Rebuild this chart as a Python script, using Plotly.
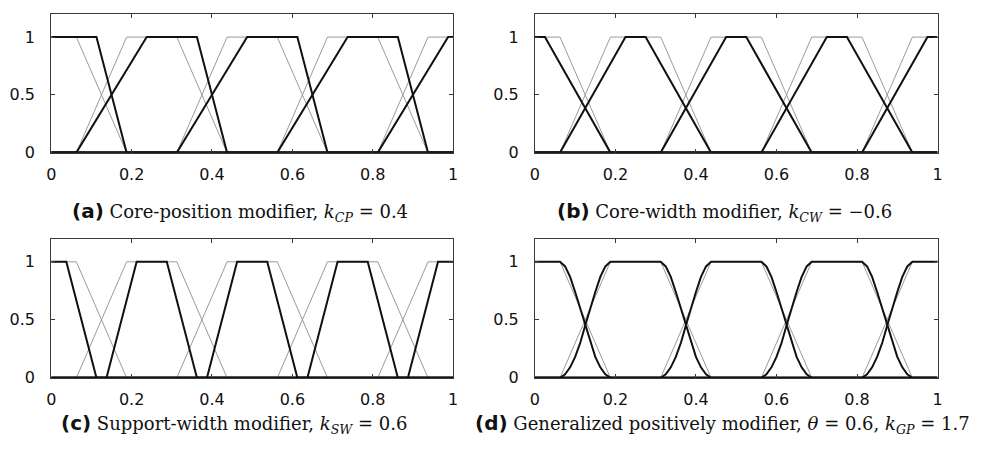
import plotly.graph_objects as go

# Reference fuzzy partition: five trapezoidal membership functions on [0, 1]
REF_SUPPORT_LO = [0.0, 0.0625, 0.3125, 0.5625, 0.8125]
REF_CORE_LO = [0.0, 0.1875, 0.4375, 0.6875, 0.9375]
REF_CORE_HI = [0.0625, 0.3125, 0.5625, 0.8125, 1.0]
REF_SUPPORT_HI = [0.1875, 0.4375, 0.6875, 0.9375, 1.0]

# (a) core-position modifier, k_CP = 0.4
A_SUPPORT_LO = [0.0, 0.0625, 0.3125, 0.5625, 0.8125]
A_CORE_LO = [0.0, 0.2375, 0.4875, 0.7375, 0.9875]
A_CORE_HI = [0.1125, 0.3625, 0.6125, 0.8625, 1.0]
A_SUPPORT_HI = [0.1875, 0.4375, 0.6875, 0.9375, 1.0]

# (b) core-width modifier, k_CW = -0.6
B_SUPPORT_LO = [0.0, 0.0625, 0.3125, 0.5625, 0.8125]
B_CORE_LO = [0.0, 0.225, 0.475, 0.725, 0.975]
B_CORE_HI = [0.025, 0.275, 0.525, 0.775, 1.0]
B_SUPPORT_HI = [0.1875, 0.4375, 0.6875, 0.9375, 1.0]

# (c) support-width modifier, k_SW = 0.6
C_SUPPORT_LO = [0.0, 0.1375, 0.3875, 0.6375, 0.8875]
C_CORE_LO = [0.0, 0.2125, 0.4625, 0.7125, 0.9625]
C_CORE_HI = [0.0375, 0.2875, 0.5375, 0.7875, 1.0]
C_SUPPORT_HI = [0.1125, 0.3625, 0.6125, 0.8625, 1.0]

# (d) generalized positively modifier: same breakpoints, curved rising edge
D_EDGE_POS = [0.0, 0.1, 0.2, 0.3, 0.4, 0.5, 0.6, 0.7, 0.8, 0.9, 1.0]
D_EDGE_MU = [0.0, 0.03, 0.09, 0.18, 0.30, 0.45, 0.60, 0.74, 0.87, 0.96, 1.0]

X_TICKS = [0, 0.2, 0.4, 0.6, 0.8, 1]
X_TICK_TEXT = ["0", "0.2", "0.4", "0.6", "0.8", "1"]
Y_TICKS = [0, 0.5, 1]
Y_TICK_TEXT = ["0", "0.5", "1"]

CAPTIONS = ["(a)", "(b)", "(c)", "(d)"]
CAPTION_TEXT = [
    "Core-position modifier, <i>k</i><sub><i>CP</i></sub> = 0.4",
    "Core-width modifier, <i>k</i><sub><i>CW</i></sub> = \u22120.6",
    "Support-width modifier, <i>k</i><sub><i>SW</i></sub> = 0.6",
    "Generalized positively modifier, <i>\u03b8</i> = 0.6, <i>k</i><sub><i>GP</i></sub> = 1.7",
]

GRAY = "#9a9a9a"
BLACK = "#111111"
FRAME = "#3a3a3a"


def trapezoid(a, b, c, d, edge_pos=None, edge_mu=None):
    """Polyline of one membership function over [0, 1]."""
    xs, ys = [], []
    if a > 0:
        xs.append(0.0)
        ys.append(0.0)
    if b > a:
        if edge_pos is None:
            xs += [a, b]
            ys += [0.0, 1.0]
        else:
            xs += [a + (b - a) * p for p in edge_pos]
            ys += list(edge_mu)
    else:
        xs.append(b)
        ys.append(1.0)
    if d > c:
        if edge_pos is None:
            xs += [c, d]
            ys += [1.0, 0.0]
        else:
            xs += [c + (d - c) * p for p in edge_pos]
            ys += list(reversed(edge_mu))
    else:
        xs.append(c)
        ys.append(1.0)
    if d < 1:
        xs.append(1.0)
        ys.append(0.0)
    return xs, ys


fig = go.Figure()

panels = [
    (A_SUPPORT_LO, A_CORE_LO, A_CORE_HI, A_SUPPORT_HI, None, None),
    (B_SUPPORT_LO, B_CORE_LO, B_CORE_HI, B_SUPPORT_HI, None, None),
    (C_SUPPORT_LO, C_CORE_LO, C_CORE_HI, C_SUPPORT_HI, None, None),
    (REF_SUPPORT_LO, REF_CORE_LO, REF_CORE_HI, REF_SUPPORT_HI, D_EDGE_POS, D_EDGE_MU),
]

# paper-space domains of the four panels
x_domains = [(0.047, 0.4554), (0.5385, 0.9477), (0.047, 0.4554), (0.5385, 0.9477)]
y_domains = [(0.6556, 0.9684), (0.6556, 0.9684), (0.1472, 0.4614), (0.1472, 0.4614)]
caption_pos = [(0.2384, 0.522), (0.7309, 0.522), (0.2329, 0.043), (0.7294, 0.043)]

for i, (slo, clo, chi, shi, epos, emu) in enumerate(panels):
    n = i + 1
    xa = "x" if n == 1 else f"x{n}"
    ya = "y" if n == 1 else f"y{n}"
    # reference partition in thin gray
    for k in range(len(REF_CORE_LO)):
        xs, ys = trapezoid(REF_SUPPORT_LO[k], REF_CORE_LO[k], REF_CORE_HI[k], REF_SUPPORT_HI[k])
        fig.add_trace(go.Scatter(x=xs, y=ys, mode="lines", xaxis=xa, yaxis=ya,
                                 line=dict(color=GRAY, width=1), hoverinfo="skip",
                                 showlegend=False))
    # modified partition in thick black
    for k in range(len(clo)):
        xs, ys = trapezoid(slo[k], clo[k], chi[k], shi[k], epos, emu)
        fig.add_trace(go.Scatter(x=xs, y=ys, mode="lines", xaxis=xa, yaxis=ya,
                                 line=dict(color=BLACK, width=2), hoverinfo="skip",
                                 showlegend=False))

    axis_common = dict(showline=True, linecolor=FRAME, linewidth=1, mirror="ticks",
                       ticks="inside", ticklen=4, tickcolor=FRAME, showgrid=False,
                       zeroline=False, fixedrange=True,
                       tickfont=dict(family="DejaVu Sans", size=16, color="#111"))
    xkey = "xaxis" if n == 1 else f"xaxis{n}"
    ykey = "yaxis" if n == 1 else f"yaxis{n}"
    fig.update_layout({
        xkey: dict(axis_common, domain=list(x_domains[i]), range=[0, 1], anchor=ya,
                   tickvals=X_TICKS, ticktext=X_TICK_TEXT, ticklabelstandoff=7),
        ykey: dict(axis_common, domain=list(y_domains[i]), range=[0, 1.2], anchor=xa,
                   tickvals=Y_TICKS, ticktext=Y_TICK_TEXT, ticklabelstandoff=12),
    })

    cx, cy = caption_pos[i]
    fig.add_annotation(
        xref="paper", yref="paper", x=cx, y=cy, xanchor="center", yanchor="middle",
        showarrow=False,
        text=(f"<span style='font-family:DejaVu Sans;font-size:20px'><b>{CAPTIONS[i]}</b></span>"
              f" {CAPTION_TEXT[i]}"),
        font=dict(family="DejaVu Serif", size=18, color="#111"),
    )

fig.update_layout(width=994, height=453, margin=dict(l=0, r=0, t=0, b=0),
                  paper_bgcolor="white", plot_bgcolor="white")

fig.write_html("out.html")
